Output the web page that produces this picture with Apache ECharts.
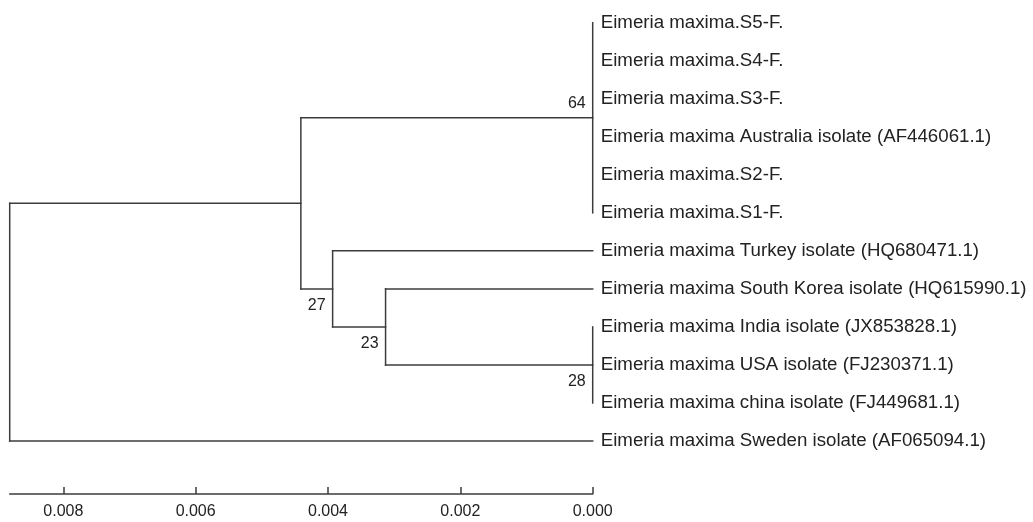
<!DOCTYPE html>
<html>
<head>
<meta charset="utf-8">
<script src="https://cdn.jsdelivr.net/npm/echarts@6/dist/echarts.min.js"></script>
<style>
html,body{margin:0;padding:0;background:#fff;}
#chart{width:1033px;height:522px;}
</style>
</head>
<body>
<div id="chart"></div>
<script>
// Tip labels (top to bottom)
const taxa = [
  'Eimeria maxima.S5-F.',
  'Eimeria maxima.S4-F.',
  'Eimeria maxima.S3-F.',
  'Eimeria maxima Australia isolate (AF446061.1)',
  'Eimeria maxima.S2-F.',
  'Eimeria maxima.S1-F.',
  'Eimeria maxima Turkey isolate (HQ680471.1)',
  'Eimeria maxima South Korea isolate (HQ615990.1)',
  'Eimeria maxima India isolate (JX853828.1)',
  'Eimeria maxima USA isolate (FJ230371.1)',
  'Eimeria maxima china isolate (FJ449681.1)',
  'Eimeria maxima Sweden isolate (AF065094.1)'
];
// Internal nodes: name, height (distance from tips), children (tip index or node name)
const nodeNames    = ['root', 'A', 'B', 'C', 'clade6', 'clade3'];
const nodeHeights  = [0.00881, 0.00441, 0.00393, 0.00313, 0, 0];
const nodeChildren = [['A', 11], ['clade6', 'B'], [6, 'C'], [7, 'clade3'], [0, 1, 2, 3, 4, 5], [8, 9, 10]];
// Bootstrap values shown at nodes
const bootNodes  = ['clade6', 'B', 'C', 'clade3'];
const bootValues = [64, 27, 23, 28];
const bootAbove  = [true, false, false, false];
// Scale bar ticks
const tickValues = [0, 0.002, 0.004, 0.006, 0.008];
const tickLabels = ['0.000', '0.002', '0.004', '0.006', '0.008'];

// ---- build tree geometry in data space ----
const nodeIdx = {};
nodeNames.forEach((n, i) => nodeIdx[n] = i);
function heightOf(c) { return typeof c === 'number' ? 0 : nodeHeights[nodeIdx[c]]; }
const yCache = {};
function yOf(c) {
  if (typeof c === 'number') return c;
  if (yCache[c] !== undefined) return yCache[c];
  const ch = nodeChildren[nodeIdx[c]];
  const y = (yOf(ch[0]) + yOf(ch[ch.length - 1])) / 2;
  yCache[c] = y;
  return y;
}
const segments = [];
nodeNames.forEach((n, i) => {
  const h = nodeHeights[i];
  const ch = nodeChildren[i];
  segments.push([h, yOf(ch[0]), h, yOf(ch[ch.length - 1])]);
  ch.forEach(c => {
    const hc = heightOf(c);
    if (hc !== h) segments.push([h, yOf(c), hc, yOf(c)]);
  });
});
const tipData = taxa.map((t, i) => [0, i, t]);
const bootData = bootNodes.map((n, i) => [nodeHeights[nodeIdx[n]], yOf(n), String(bootValues[i]), bootAbove[i] ? 1 : 0]);

const LINE = '#3c3c3c';
const TEXT = '#222';
const FONT = '"Liberation Sans", Arial, sans-serif';

const chart = echarts.init(document.getElementById('chart'), null, {renderer: 'canvas'});
chart.setOption({
  animation: false,
  backgroundColor: '#fff',
  grid: {left: 9.7, right: 440.3, top: 22.7, bottom: 81},
  xAxis: {
    type: 'value', inverse: true, min: 0, max: nodeHeights[0],
    position: 'bottom', offset: 53,
    splitLine: {show: false},
    axisLine: {show: true, onZero: false, lineStyle: {color: LINE, width: 1.5}},
    axisTick: {show: true, inside: true, length: 7, lineStyle: {color: LINE, width: 1.5}, customValues: tickValues},
    axisLabel: {
      customValues: tickValues,
      margin: 10, color: TEXT, fontSize: 16, fontFamily: FONT,
      formatter: v => { const k = tickValues.findIndex(t => Math.abs(t - v) < 1e-9); return k >= 0 ? tickLabels[k] : ''; }
    }
  },
  yAxis: {type: 'value', inverse: true, min: 0, max: taxa.length - 1, show: false},
  series: [
    {
      type: 'custom', coordinateSystem: 'cartesian2d', data: segments, silent: true,
      encode: {x: [0, 2], y: [1, 3]},
      renderItem: (params, api) => {
        const p1 = api.coord([api.value(0), api.value(1)]);
        const p2 = api.coord([api.value(2), api.value(3)]);
        return {type: 'line', shape: {x1: p1[0], y1: p1[1], x2: p2[0], y2: p2[1]},
          style: {stroke: LINE, lineWidth: 1.5, lineCap: 'square'}};
      }
    },
    {
      type: 'custom', coordinateSystem: 'cartesian2d', data: tipData, silent: true,
      encode: {x: 0, y: 1},
      renderItem: (params, api) => {
        const p = api.coord([api.value(0), api.value(1)]);
        return {type: 'text', x: p[0] + 8, y: p[1],
          style: {text: tipData[params.dataIndex][2], fill: TEXT, font: '18.7px ' + FONT, align: 'left', verticalAlign: 'middle'}};
      }
    },
    {
      type: 'custom', coordinateSystem: 'cartesian2d', data: bootData, silent: true,
      encode: {x: 0, y: 1},
      renderItem: (params, api) => {
        const d = bootData[params.dataIndex];
        const p = api.coord([d[0], d[1]]);
        return {type: 'text', x: p[0] - 7, y: p[1] + (d[3] ? -14 : 17),
          style: {text: d[2], fill: TEXT, font: '16px ' + FONT, align: 'right', verticalAlign: 'middle'}};
      }
    }
  ]
});
</script>
</body>
</html>
